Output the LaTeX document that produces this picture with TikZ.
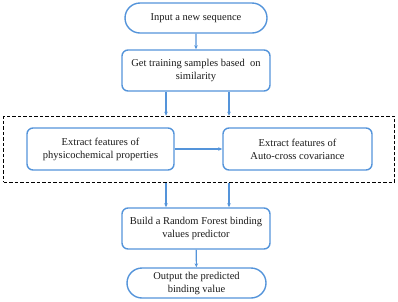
\documentclass[tikz,border=0pt]{standalone}
\usepackage{fontspec}
\setmainfont{Liberation Serif}
\usetikzlibrary{shapes.misc,arrows.meta}
\definecolor{flowblue}{RGB}{84,148,218}
\definecolor{txt}{RGB}{25,25,25}
\begin{document}
\begin{tikzpicture}[x=1pt,y=-1pt,
  base/.style={draw=flowblue,line width=1.4pt,text=txt,align=center,font=\fontsize{10.5}{13}\selectfont,inner sep=0pt},
  term/.style={base,rounded rectangle,minimum width=#1,minimum height=30pt},
  proc/.style={base,rectangle,rounded corners=6pt,minimum width=#1,minimum height=41pt},
  arr/.style={draw=flowblue,line width=1.1pt,-{Stealth[length=4pt,width=3.5pt]}}]
\useasboundingbox (0,0) rectangle (398,301);
\node[term=142pt] (start) at (196,18) {Input a new sequence};
\node[proc=148pt] (samp) at (196,70.5) {Get training samples based\ \ on\\similarity};
\node[draw=black,dash pattern=on 3.5pt off 2pt,line width=1.1pt,minimum width=391pt,minimum height=66pt,inner sep=0pt] (group) at (199,149.25) {};
\node[proc=147pt,minimum height=42pt] (phys) at (100.5,149) {Extract features of\\physicochemical properties};
\node[proc=149pt,minimum height=42pt] (acc) at (297.5,149) {Extract features of\\Auto-cross covariance};
\node[proc=148pt] (rf) at (196,228.5) {Build a Random Forest binding\\values predictor};
\node[term=139pt] (out) at (196.5,283) {Output the predicted\\binding value};
\draw[arr] (start) -- (samp);
\draw[arr] ([xshift=-30pt]samp.south) -- ([xshift=-30pt]samp.south |- group.north);
\draw[arr] ([xshift=33pt]samp.south) -- ([xshift=33pt]samp.south |- group.north);
\draw[arr] (phys) -- (acc);
\draw[arr] ([xshift=-30pt]group.south -| rf.north) -- ([xshift=-30pt]rf.north);
\draw[arr] ([xshift=33pt]group.south -| rf.north) -- ([xshift=33pt]rf.north);
\draw[arr] (rf) -- (out);
\end{tikzpicture}
\end{document}
